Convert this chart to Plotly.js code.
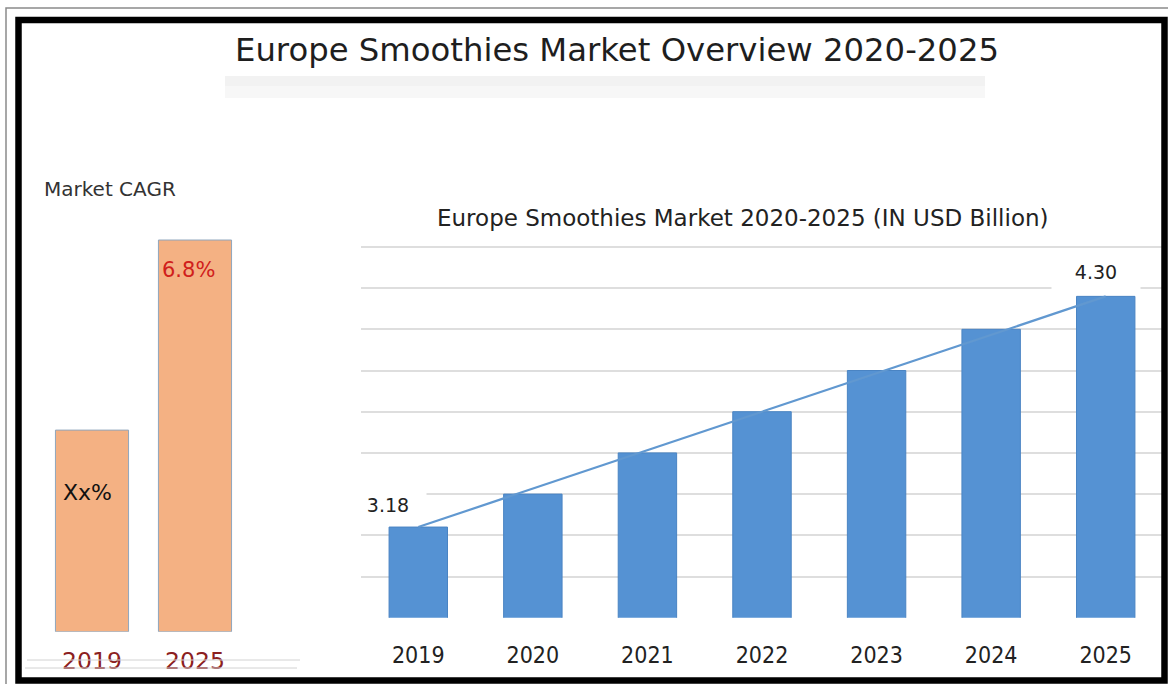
<!DOCTYPE html>
<html>
<head>
<meta charset="utf-8">
<script src="https://cdn.plot.ly/plotly-3.0.1.min.js"></script>
<style>html,body{margin:0;padding:0;background:#fff;}#chart{width:1168px;height:684px;}</style>
</head>
<body>
<div id="chart"></div>
<script>
// ---- data ----
const titleText = 'Europe Smoothies Market Overview 2020-2025';
const subTitleText = 'Europe Smoothies Market 2020-2025 (IN USD Billion)';
const years = [2019, 2020, 2021, 2022, 2023, 2024, 2025];
const yearLabels = ['2019', '2020', '2021', '2022', '2023', '2024', '2025'];
const marketValues = [3.18, 3.34, 3.54, 3.74, 3.94, 4.14, 4.30];
const cagrTitle = 'Market CAGR';
const cagrYears = ['2019', '2025'];
const cagrHeights = [3.5, 6.8];
const cagrLabels = ['Xx%', '6.8%'];

// ---- helpers: pixel -> paper (margins are zero) ----
const W = 1168, H = 684;
const px = x => x / W;
const py = y => 1 - y / H;

const FONT = 'DejaVu Sans, Noto Sans, sans-serif';
const FONT_C = 'DejaVu Sans Condensed, DejaVu Sans, sans-serif';
const last = marketValues.length - 1;

const traces = [
  {
    type: 'bar', x: years, y: marketValues, xaxis: 'x', yaxis: 'y',
    width: 0.51,
    marker: {color: '#5592d3', line: {color: '#4a84c3', width: 1}},
    hoverinfo: 'x+y'
  },
  {
    type: 'scatter', mode: 'lines', xaxis: 'x', yaxis: 'y',
    x: [years[0], years[last]],
    y: [marketValues[0], marketValues[last]],
    line: {color: '#6198d0', width: 2.2}, hoverinfo: 'skip'
  },
  {
    type: 'bar', x: [0, 1], y: cagrHeights, xaxis: 'x2', yaxis: 'y2',
    width: 0.71,
    marker: {color: '#f4b183', line: {color: '#8fa6bd', width: 1}},
    hoverinfo: 'skip'
  }
];

const annotations = [
  {
    text: subTitleText, xref: 'paper', yref: 'paper', x: px(743), y: py(218),
    xanchor: 'center', yanchor: 'middle', showarrow: false,
    font: {family: FONT, size: 23, color: '#222'}
  },
  {
    text: cagrTitle, xref: 'paper', yref: 'paper', x: px(42), y: py(189),
    xanchor: 'left', yanchor: 'middle', showarrow: false,
    font: {family: FONT, size: 20, color: '#333'}
  },
  {
    text: marketValues[0].toFixed(2), xref: 'x', yref: 'y',
    x: years[0], y: marketValues[0], xshift: -30, yshift: 22,
    xanchor: 'center', yanchor: 'middle', showarrow: false,
    width: 76, height: 30, bgcolor: '#ffffff', borderpad: 0,
    font: {family: FONT, size: 19, color: '#222'}
  },
  {
    text: marketValues[last].toFixed(2), xref: 'x', yref: 'y',
    x: years[last], y: marketValues[last],
    xshift: -10, yshift: 24,
    xanchor: 'center', yanchor: 'middle', showarrow: false,
    width: 88, height: 36, bgcolor: '#ffffff', borderpad: 0,
    font: {family: FONT, size: 19, color: '#222'}
  },
  {
    text: cagrLabels[0], xref: 'paper', yref: 'paper', x: px(87), y: py(493),
    xanchor: 'center', yanchor: 'middle', showarrow: false,
    font: {family: FONT, size: 22, color: '#111'}
  },
  {
    text: cagrLabels[1], xref: 'paper', yref: 'paper', x: px(188), y: py(270),
    xanchor: 'center', yanchor: 'middle', showarrow: false,
    font: {family: FONT, size: 21, color: '#d0201c'}
  }
];

const shapes = [
  // title reflection haze
  {type: 'rect', xref: 'paper', yref: 'paper', x0: px(225), x1: px(985), y0: py(76), y1: py(86),
   fillcolor: 'rgba(0,0,0,0.05)', line: {width: 0}, layer: 'below'},
  {type: 'rect', xref: 'paper', yref: 'paper', x0: px(225), x1: px(985), y0: py(86), y1: py(98),
   fillcolor: 'rgba(0,0,0,0.03)', line: {width: 0}, layer: 'below'},
  // thin outer frame
  {type: 'rect', xref: 'paper', yref: 'paper', x0: px(6), x1: px(1180), y0: py(8), y1: py(700),
   line: {color: '#8a8a8a', width: 1.5}},
  // thick black frame
  {type: 'rect', xref: 'paper', yref: 'paper', x0: px(18.5), x1: px(1164.5), y0: py(20), y1: py(680.5),
   line: {color: '#000', width: 6.5}},
  // faint lines under the CAGR year labels
  {type: 'line', xref: 'paper', yref: 'paper', x0: px(27), x1: px(300), y0: py(660), y1: py(660),
   line: {color: '#d2d2d2', width: 1}},
  {type: 'line', xref: 'paper', yref: 'paper', x0: px(25), x1: px(297), y0: py(668), y1: py(668),
   line: {color: '#d2d2d2', width: 1}}
];

const layout = {
  width: W, height: H,
  margin: {l: 0, r: 0, t: 0, b: 0, pad: 0},
  paper_bgcolor: '#ffffff', plot_bgcolor: 'rgba(0,0,0,0)',
  showlegend: false,
  title: {
    text: titleText, x: px(617), y: py(50), xref: 'paper', yref: 'paper',
    xanchor: 'center', yanchor: 'middle',
    font: {family: FONT, size: 32.3, color: '#1e1e1e'}
  },
  xaxis: {
    domain: [px(361), px(1163)], type: 'linear', range: [years[0] - 0.5, years[last] + 0.5],
    tickmode: 'array', tickvals: years, ticktext: yearLabels,
    showgrid: false, zeroline: false, showline: false,
    ticks: 'outside', ticklen: 17, tickcolor: 'rgba(0,0,0,0)',
    tickfont: {family: FONT_C, size: 23, color: '#222'}, fixedrange: true
  },
  yaxis: {
    domain: [py(617.7), py(242.8)], range: [2.74, 4.56],
    tick0: 2.74, dtick: 0.2, showticklabels: false,
    showgrid: true, gridcolor: '#dedede', gridwidth: 2,
    zeroline: false, showline: false, fixedrange: true
  },
  xaxis2: {
    domain: [px(40.5), px(246.5)], type: 'linear', range: [-0.5, 1.5],
    tickmode: 'array', tickvals: [0, 1], ticktext: cagrYears,
    anchor: 'y2', showgrid: false, zeroline: false, showline: false,
    ticks: 'outside', ticklen: 8, tickcolor: 'rgba(0,0,0,0)',
    tickfont: {family: FONT, size: 23.5, color: '#8b2020'}, fixedrange: true
  },
  yaxis2: {
    domain: [py(631.7), py(228.5)], range: [0, 7], anchor: 'x2',
    showgrid: false, showticklabels: false, zeroline: false, showline: false, fixedrange: true
  },
  annotations: annotations,
  shapes: shapes
};

Plotly.newPlot('chart', traces, layout, {displayModeBar: false, responsive: false});
</script>
</body>
</html>
